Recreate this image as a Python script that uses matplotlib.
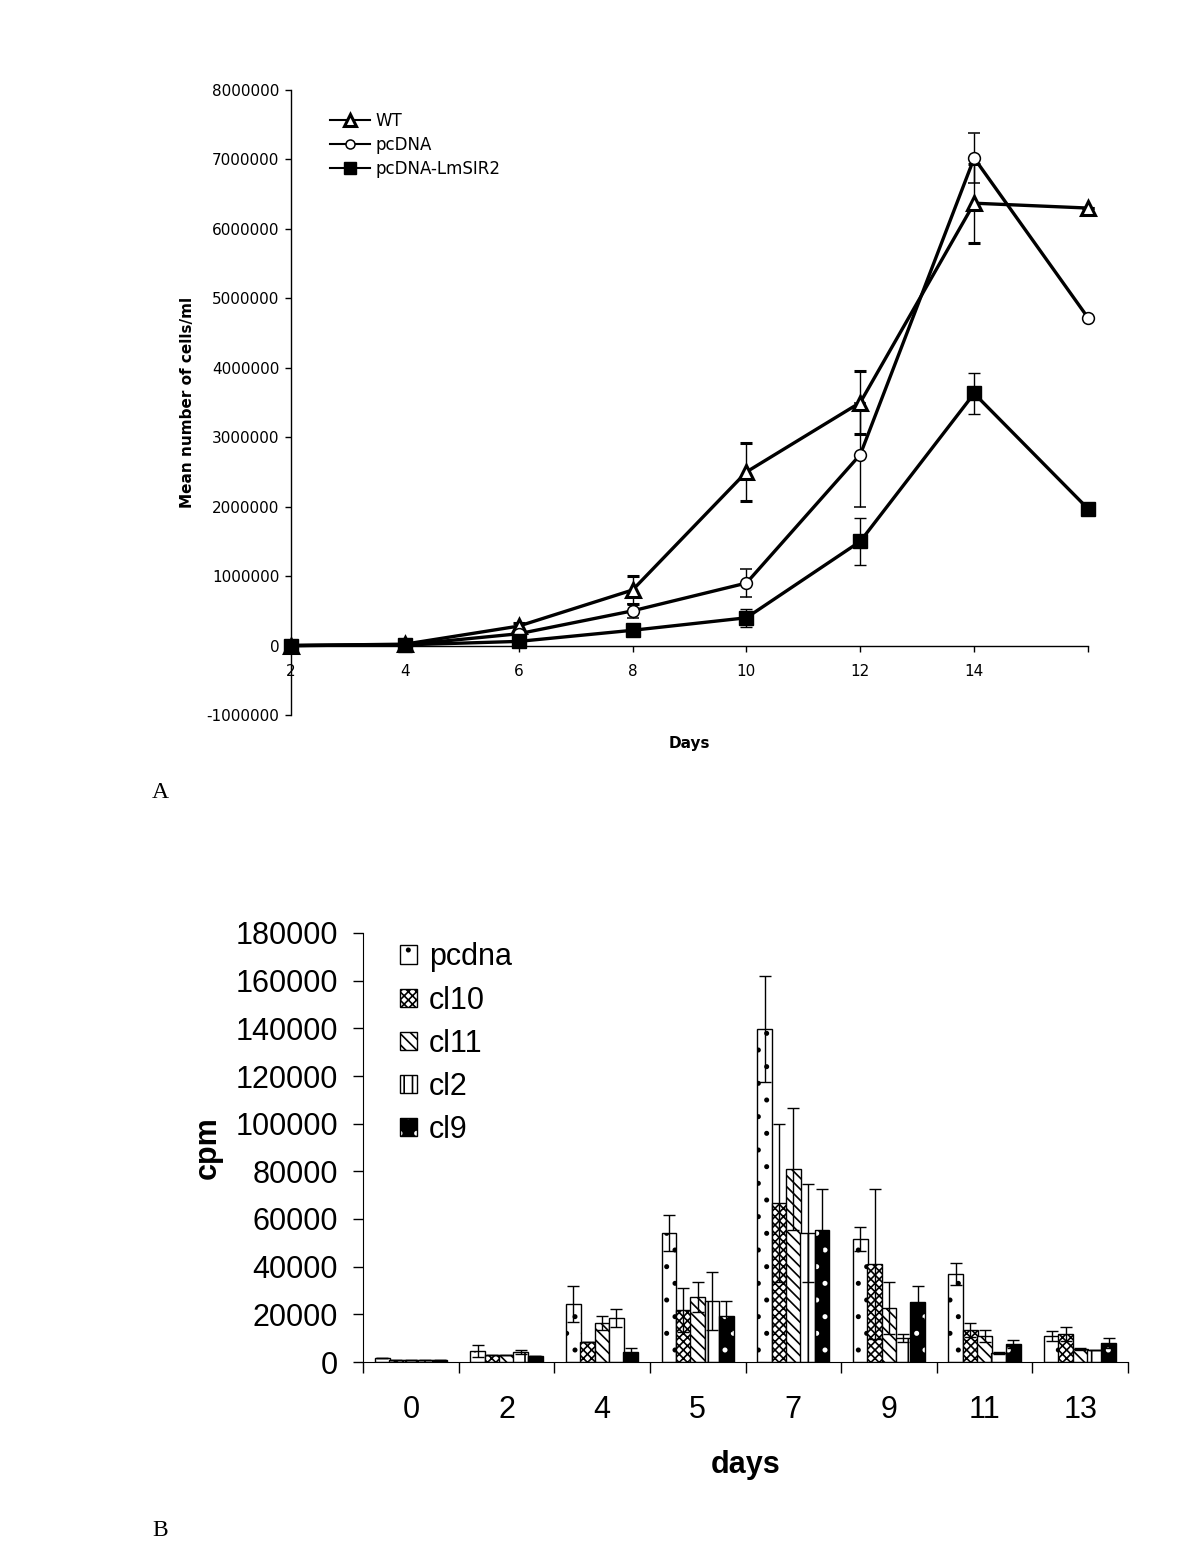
import matplotlib
matplotlib.use("Agg")
import matplotlib.pyplot as plt
from matplotlib.lines import Line2D
from matplotlib.patches import Patch
import numpy as np

# ---------------- Panel A data ----------------
days_a = [2, 4, 6, 8, 10, 12, 14, 16]
xtick_a = [2, 4, 6, 8, 10, 12, 14]
wt = [0, 20000, 280000, 800000, 2500000, 3500000, 6370000, 6300000]
wt_err = [0, 10000, 50000, 200000, 420000, 450000, 570000, 0]
pcdna = [0, 10000, 170000, 500000, 900000, 2750000, 7020000, 4720000]
pcdna_err = [0, 5000, 40000, 100000, 200000, 750000, 360000, 0]
sir2 = [0, 10000, 60000, 220000, 400000, 1500000, 3630000, 1970000]
sir2_err = [0, 5000, 20000, 50000, 130000, 340000, 300000, 0]
yticks_a = [-1000000, 0, 1000000, 2000000, 3000000, 4000000, 5000000, 6000000, 7000000, 8000000]

# ---------------- Panel B data ----------------
days_b = ["0", "2", "4", "5", "7", "9", "11", "13"]
series_b = ["pcdna", "cl10", "cl11", "cl2", "cl9"]
b_pcdna = [1500, 4600, 24300, 54100, 139700, 51600, 36900, 11000]
b_pcdna_err = [0, 2500, 7700, 7600, 22300, 5000, 4600, 2000]
b_cl10 = [1000, 2900, 8400, 21800, 66700, 41100, 13400, 11700]
b_cl10_err = [0, 0, 0, 9200, 33200, 31500, 3000, 3000]
b_cl11 = [800, 2900, 16400, 27300, 81000, 22700, 11000, 5500]
b_cl11_err = [0, 0, 2900, 6200, 25600, 10900, 2400, 400]
b_cl2 = [900, 4200, 18500, 25600, 54100, 10000, 3800, 5000]
b_cl2_err = [0, 800, 3700, 12200, 20600, 1700, 500, 0]
b_cl9 = [800, 2500, 4200, 19300, 55400, 25200, 7500, 8000]
b_cl9_err = [0, 0, 1700, 6300, 17200, 6700, 1700, 2000]
yticks_b = [0, 20000, 40000, 60000, 80000, 100000, 120000, 140000, 160000, 180000]

plt.rcParams['hatch.linewidth'] = 1.2

fig = plt.figure(figsize=(12, 15.56), dpi=100)

# ================= Panel A =================
axA = fig.add_axes([291/1200, 1-715/1556, (1088-291)/1200, (715-90)/1556])
fA = dict(family="DejaVu Sans")
lw = 2.4
axA.errorbar(days_a, wt, yerr=wt_err, color='black', lw=lw, marker='^', ms=10,
             mfc='white', mec='black', mew=2.2, ecolor='black', elinewidth=1,
             capsize=4.5, capthick=1, label='WT', zorder=3, clip_on=False)
axA.errorbar(days_a, pcdna, yerr=pcdna_err, color='black', lw=lw, marker='o', ms=8.5,
             mfc='white', mec='black', mew=1.1, ecolor='black', elinewidth=1,
             capsize=4.5, capthick=1, label='pcDNA', zorder=3, clip_on=False)
axA.errorbar(days_a, sir2, yerr=sir2_err, color='black', lw=lw, marker='s', ms=10.5,
             mfc='black', mec='black', ecolor='black', elinewidth=1,
             capsize=4.5, capthick=1, label='pcDNA-LmSIR2', zorder=3, clip_on=False)
axA.set_xlim(2, 16)
axA.set_ylim(-1000000, 8000000)
axA.spines['top'].set_visible(False)
axA.spines['right'].set_visible(False)
axA.spines['bottom'].set_position(('data', 0))
axA.spines['left'].set_linewidth(1)
axA.spines['bottom'].set_linewidth(1)
axA.set_yticks(yticks_a)
axA.set_yticklabels([str(v) for v in yticks_a], fontsize=11, **fA)
axA.set_xticks(xtick_a + [16])
axA.set_xticklabels([str(v) for v in xtick_a] + [""], fontsize=11, **fA)
axA.tick_params(axis='both', direction='out', length=4.5, width=1, pad=4)
axA.tick_params(axis='x', pad=9)
axA.set_ylabel("Mean number of cells/ml", fontsize=11, fontweight='bold', labelpad=8, **fA)
axA.text(0.5, -0.034, "Days", transform=axA.transAxes, ha='center', va='top',
         fontsize=11, fontweight='bold', **fA)
lA = ['WT', 'pcDNA', 'pcDNA-LmSIR2']
hA2 = [Line2D([0], [0], color='black', lw=1.5, marker=m, ms=s, mfc=fc, mec='black', mew=mw)
       for m, s, fc, mw in [('^', 8, 'white', 2.2), ('o', 6.5, 'white', 1.1), ('s', 8.5, 'black', 1)]]
axA.legend(hA2, lA, loc='upper left', bbox_to_anchor=(0.049, 0.965), frameon=False,
           prop=dict(family="DejaVu Sans", size=12), handlelength=2.4, handletextpad=0.35,
           labelspacing=0.36, borderpad=0, borderaxespad=0)

fig.text(152/1200, 1-793/1556, "A", fontsize=17, family="Liberation Serif", va='center')

# ================= Panel B =================
axB = fig.add_axes([363/1200, 1-1362/1556, (1128-363)/1200, (1362-933)/1556])
fB = dict(family="Liberation Sans")
x = np.arange(len(days_b))
width = 0.155
step = 0.15
vals = [b_pcdna, b_cl10, b_cl11, b_cl2, b_cl9]
errs = [b_pcdna_err, b_cl10_err, b_cl11_err, b_cl2_err, b_cl9_err]
hatches = ['.', 'xxxx', '\\\\\\', '|', None]
for i, (v, e, h) in enumerate(zip(vals, errs, hatches)):
    xs = x + (i - 2) * step
    if i == 4:
        axB.bar(xs, v, width, color='black', edgecolor='white', hatch='.', linewidth=0, zorder=2)
        axB.bar(xs, v, width, fill=False, edgecolor='black', linewidth=1, zorder=2.1)
    else:
        axB.bar(xs, v, width, color='white', edgecolor='black', hatch=h, linewidth=1, zorder=2)
    axB.errorbar(xs, v, yerr=e, fmt='none', ecolor='black', elinewidth=1,
                 capsize=4.5, capthick=1, zorder=3)

axB.set_xlim(-0.5, len(days_b) - 0.5)
axB.set_ylim(0, 180000)
axB.spines['top'].set_visible(False)
axB.spines['right'].set_visible(False)
axB.set_yticks(yticks_b)
axB.set_yticklabels([str(v) for v in yticks_b], fontsize=22, **fB)
axB.set_xticks(x)
axB.set_xticklabels(days_b, fontsize=22, **fB)
axB.set_xticks(np.arange(len(days_b) + 1) - 0.5, minor=True)
axB.tick_params(axis='x', which='major', length=0, pad=24)
axB.tick_params(axis='x', which='minor', length=8, width=1, direction='out')
axB.tick_params(axis='y', length=7, width=1, direction='out', pad=11)
axB.set_ylabel("cpm", fontsize=22, fontweight='bold', labelpad=9, **fB)
axB.set_xlabel("days", fontsize=22, fontweight='bold', labelpad=18, **fB)

hB = [Patch(facecolor='white', edgecolor='black', hatch='.'),
      Patch(facecolor='white', edgecolor='black', hatch='xxxx'),
      Patch(facecolor='white', edgecolor='black', hatch='\\\\\\'),
      Patch(facecolor='white', edgecolor='black', hatch='||'),
      (Patch(facecolor='black', edgecolor='white', hatch='.', linewidth=0),
       Patch(fill=False, edgecolor='black'))]
axB.legend(hB, series_b, loc='upper left', bbox_to_anchor=(0.048, 0.978), frameon=False,
           prop=dict(family="Liberation Sans", size=22), handlelength=0.55, handleheight=0.55,
           handletextpad=0.4, labelspacing=0.43, borderpad=0, borderaxespad=0)

fig.text(152/1200, 1-1530/1556, "B", fontsize=17, family="Liberation Serif", va='center')

fig.savefig("out.png", dpi=100)
